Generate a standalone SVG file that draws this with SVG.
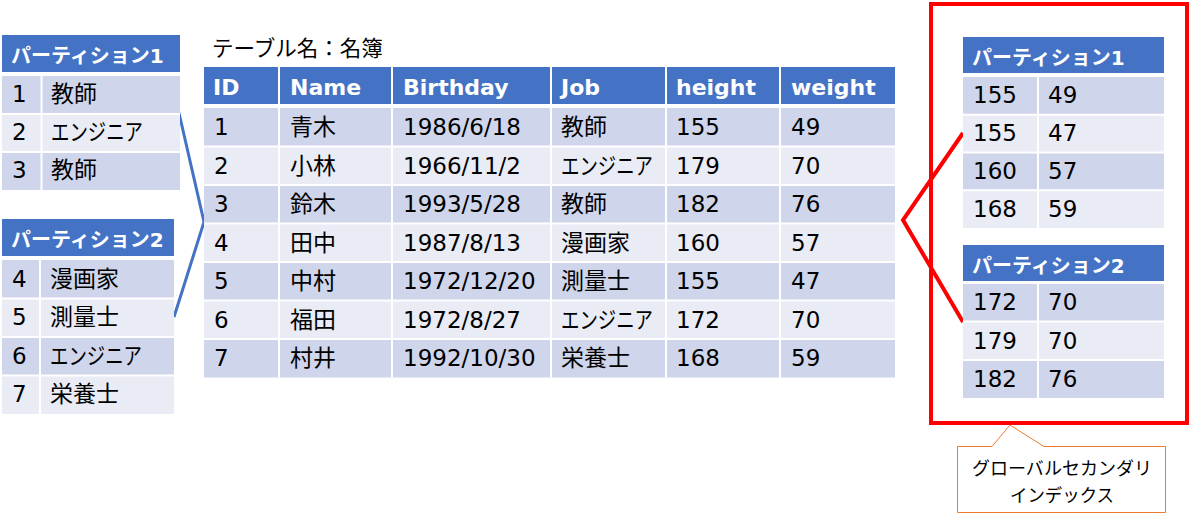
<svg xmlns="http://www.w3.org/2000/svg" width="1190" height="530" viewBox="0 0 1190 530">
<style>
.hdr{fill:#4472C4}
.r1{fill:#CFD5EA}
.r2{fill:#E9EBF5}
.sep{stroke:#FFFFFF;stroke-width:2}
text{font-family:"DejaVu Sans","Noto Sans CJK JP",sans-serif}
.ht{font-size:22px;font-weight:bold;fill:#FFFFFF}
.pt{font-size:20px;font-weight:bold;fill:#FFFFFF}
.t{font-size:23px;fill:#000000}
.ttl{font-size:21.5px;fill:#000000;font-family:"Noto Sans CJK JP",sans-serif}
.cl{font-size:18px;fill:#000000;font-family:"Noto Sans CJK JP",sans-serif;text-anchor:middle}
</style>
<rect width="1190" height="530" fill="#FFFFFF"/>

<g id="connectors" fill="none">
<polyline points="179,113 204,222 174,317" stroke="#4472C4" stroke-width="3"/>
<polyline points="963,133 903,220 963,322" stroke="#FF0000" stroke-width="4"/>
</g>

<g id="left-partition1">
<rect class="hdr" x="2" y="35" width="178" height="37"/>
<text class="pt" x="11" y="63">パーティション1</text>
<rect class="r1" x="2" y="76" width="178" height="38"/>
<rect class="r2" x="2" y="114" width="178" height="38"/>
<rect class="r1" x="2" y="152" width="178" height="38"/>
<line class="sep" x1="2" y1="114" x2="180" y2="114"/>
<line class="sep" x1="2" y1="152" x2="180" y2="152"/>
<line class="sep" x1="41.5" y1="76" x2="41.5" y2="190"/>
<text class="t" x="12" y="102">1</text><text class="t" x="51" y="102">教師</text>
<text class="t" x="12" y="140">2</text><text class="t" x="51" y="140" textLength="92" lengthAdjust="spacingAndGlyphs">エンジニア</text>
<text class="t" x="12" y="178">3</text><text class="t" x="51" y="178">教師</text>
</g>

<g id="left-partition2">
<rect class="hdr" x="2" y="219" width="172" height="37"/>
<text class="pt" x="11" y="247">パーティション2</text>
<rect class="r1" x="2" y="260" width="172" height="38.5"/>
<rect class="r2" x="2" y="298.5" width="172" height="38.5"/>
<rect class="r1" x="2" y="337" width="172" height="38.5"/>
<rect class="r2" x="2" y="375.5" width="172" height="38.5"/>
<line class="sep" x1="2" y1="298.5" x2="174" y2="298.5"/>
<line class="sep" x1="2" y1="337" x2="174" y2="337"/>
<line class="sep" x1="2" y1="375.5" x2="174" y2="375.5"/>
<line class="sep" x1="40" y1="260" x2="40" y2="414"/>
<text class="t" x="12" y="287">4</text><text class="t" x="50" y="287">漫画家</text>
<text class="t" x="12" y="325">5</text><text class="t" x="50" y="325">測量士</text>
<text class="t" x="12" y="364">6</text><text class="t" x="50" y="364" textLength="92" lengthAdjust="spacingAndGlyphs">エンジニア</text>
<text class="t" x="12" y="402">7</text><text class="t" x="50" y="402">栄養士</text>
</g>

<g id="main-table">
<text class="ttl" x="212" y="56">テーブル名：名簿</text>
<rect class="hdr" x="204" y="67" width="691" height="37"/>
<rect class="r1" x="204" y="108" width="691" height="38.5"/>
<rect class="r2" x="204" y="146.5" width="691" height="38.5"/>
<rect class="r1" x="204" y="185" width="691" height="38.5"/>
<rect class="r2" x="204" y="223.5" width="691" height="38.5"/>
<rect class="r1" x="204" y="262" width="691" height="38.5"/>
<rect class="r2" x="204" y="300.5" width="691" height="38.5"/>
<rect class="r1" x="204" y="339" width="691" height="38.5"/>
<g class="sep">
<line x1="204" y1="146.5" x2="895" y2="146.5"/>
<line x1="204" y1="185" x2="895" y2="185"/>
<line x1="204" y1="223.5" x2="895" y2="223.5"/>
<line x1="204" y1="262" x2="895" y2="262"/>
<line x1="204" y1="300.5" x2="895" y2="300.5"/>
<line x1="204" y1="339" x2="895" y2="339"/>
<line x1="279" y1="67" x2="279" y2="377.5"/>
<line x1="392" y1="67" x2="392" y2="377.5"/>
<line x1="551" y1="67" x2="551" y2="377.5"/>
<line x1="666" y1="67" x2="666" y2="377.5"/>
<line x1="780" y1="67" x2="780" y2="377.5"/>
</g>
<text class="ht" x="213" y="95">ID</text>
<text class="ht" x="290" y="95">Name</text>
<text class="ht" x="403" y="95">Birthday</text>
<text class="ht" x="561" y="95">Job</text>
<text class="ht" x="676" y="95">height</text>
<text class="ht" x="791" y="95">weight</text>

<text class="t" x="214" y="135">1</text><text class="t" x="290" y="135">青木</text><text class="t" x="403" y="135">1986/6/18</text><text class="t" x="561" y="135">教師</text><text class="t" x="676" y="135">155</text><text class="t" x="791" y="135">49</text>
<text class="t" x="214" y="173.5">2</text><text class="t" x="290" y="173.5">小林</text><text class="t" x="403" y="173.5">1966/11/2</text><text class="t" x="561" y="173.5" textLength="92" lengthAdjust="spacingAndGlyphs">エンジニア</text><text class="t" x="676" y="173.5">179</text><text class="t" x="791" y="173.5">70</text>
<text class="t" x="214" y="212">3</text><text class="t" x="290" y="212">鈴木</text><text class="t" x="403" y="212">1993/5/28</text><text class="t" x="561" y="212">教師</text><text class="t" x="676" y="212">182</text><text class="t" x="791" y="212">76</text>
<text class="t" x="214" y="250.5">4</text><text class="t" x="290" y="250.5">田中</text><text class="t" x="403" y="250.5">1987/8/13</text><text class="t" x="561" y="250.5">漫画家</text><text class="t" x="676" y="250.5">160</text><text class="t" x="791" y="250.5">57</text>
<text class="t" x="214" y="289">5</text><text class="t" x="290" y="289">中村</text><text class="t" x="403" y="289">1972/12/20</text><text class="t" x="561" y="289">測量士</text><text class="t" x="676" y="289">155</text><text class="t" x="791" y="289">47</text>
<text class="t" x="214" y="327.5">6</text><text class="t" x="290" y="327.5">福田</text><text class="t" x="403" y="327.5">1972/8/27</text><text class="t" x="561" y="327.5" textLength="92" lengthAdjust="spacingAndGlyphs">エンジニア</text><text class="t" x="676" y="327.5">172</text><text class="t" x="791" y="327.5">70</text>
<text class="t" x="214" y="366">7</text><text class="t" x="290" y="366">村井</text><text class="t" x="403" y="366">1992/10/30</text><text class="t" x="561" y="366">栄養士</text><text class="t" x="676" y="366">168</text><text class="t" x="791" y="366">59</text>
</g>

<g id="gsi-box">
<rect x="931" y="4" width="256" height="419" fill="none" stroke="#FF0000" stroke-width="4"/>
</g>

<g id="right-partition1">
<rect class="hdr" x="963" y="37" width="201" height="36"/>
<text class="pt" x="972" y="65">パーティション1</text>
<rect class="r1" x="963" y="77" width="201" height="37.75"/>
<rect class="r2" x="963" y="114.75" width="201" height="37.75"/>
<rect class="r1" x="963" y="152.5" width="201" height="37.75"/>
<rect class="r2" x="963" y="190.25" width="201" height="37.75"/>
<line class="sep" x1="963" y1="114.75" x2="1164" y2="114.75"/>
<line class="sep" x1="963" y1="152.5" x2="1164" y2="152.5"/>
<line class="sep" x1="963" y1="190.25" x2="1164" y2="190.25"/>
<line class="sep" x1="1038" y1="77" x2="1038" y2="228"/>
<text class="t" x="973" y="103">155</text><text class="t" x="1048" y="103">49</text>
<text class="t" x="973" y="141">155</text><text class="t" x="1048" y="141">47</text>
<text class="t" x="973" y="179">160</text><text class="t" x="1048" y="179">57</text>
<text class="t" x="973" y="217">168</text><text class="t" x="1048" y="217">59</text>
</g>

<g id="right-partition2">
<rect class="hdr" x="963" y="245" width="201" height="36"/>
<text class="pt" x="972" y="273">パーティション2</text>
<rect class="r1" x="963" y="284" width="201" height="37.5"/>
<rect class="r2" x="963" y="321.5" width="201" height="38.5"/>
<rect class="r1" x="963" y="360" width="201" height="38"/>
<line class="sep" x1="963" y1="321.5" x2="1164" y2="321.5"/>
<line class="sep" x1="963" y1="360" x2="1164" y2="360"/>
<line class="sep" x1="1038" y1="284" x2="1038" y2="398"/>
<text class="t" x="973" y="310">172</text><text class="t" x="1048" y="310">70</text>
<text class="t" x="973" y="349">179</text><text class="t" x="1048" y="349">70</text>
<text class="t" x="973" y="387">182</text><text class="t" x="1048" y="387">76</text>
</g>

<g id="callout">
<path d="M957.5,446.5 H992 L1010,425 L1044,446.5 H1165.5 V512.5 H957.5 Z" fill="#FFFFFF" stroke="#ED7D31" stroke-width="1"/>
<text class="cl" x="1062" y="475" textLength="180" lengthAdjust="spacingAndGlyphs">グローバルセカンダリ</text>
<text class="cl" x="1062" y="502" textLength="104" lengthAdjust="spacingAndGlyphs">インデックス</text>
</g>
</svg>
